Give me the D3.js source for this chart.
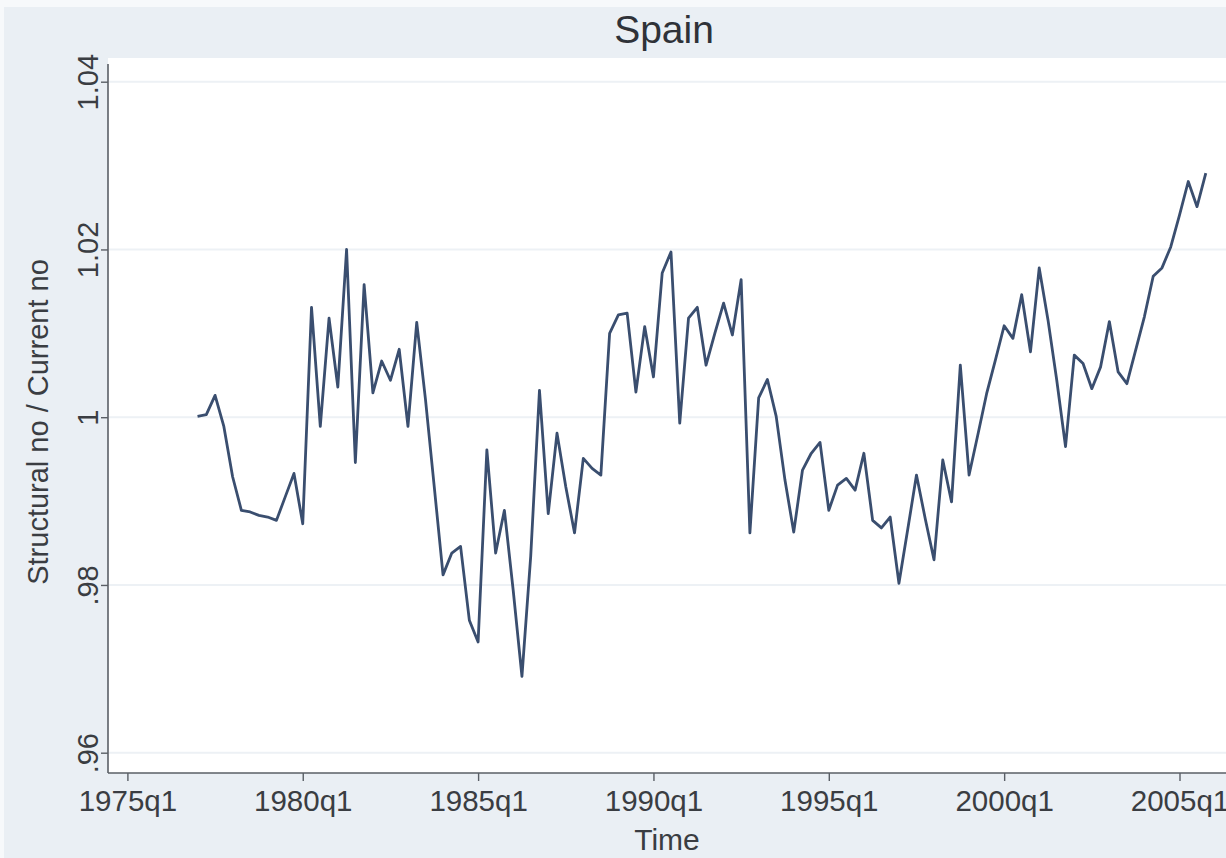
<!DOCTYPE html>
<html>
<head>
<meta charset="utf-8">
<script src="https://cdn.jsdelivr.net/npm/d3@7"></script>
<style>
  html, body { margin: 0; padding: 0; background: #ffffff; }
  svg { display: block; }
</style>
</head>
<body>
<svg id="chart" width="1226" height="858"></svg>
<script>
// Ratio of structural to current value, quarterly, 1977q1 - 2005q4
const firstPeriod = { year: 1977, quarter: 1 };
const ratio = [
  1.0001, 1.0003, 1.0026, 0.9989,
  0.9929, 0.9889, 0.9887, 0.9883,
  0.9881, 0.9877, 0.9905, 0.9933,
  0.9873, 1.0131, 0.9989, 1.0118,
  1.0036, 1.0200, 0.9946, 1.0158,
  1.0029, 1.0067, 1.0044, 1.0081,
  0.9989, 1.0113, 1.0021, 0.9917,
  0.9812, 0.9838, 0.9846, 0.9758,
  0.9732, 0.9961, 0.9838, 0.9889,
  0.9794, 0.9691, 0.9834, 1.0032,
  0.9885, 0.9981, 0.9917, 0.9862,
  0.9951, 0.9939, 0.9931, 1.0100,
  1.0122, 1.0124, 1.0030, 1.0108,
  1.0048, 1.0172, 1.0197, 0.9993,
  1.0118, 1.0131, 1.0062, 1.0100,
  1.0136, 1.0098, 1.0164, 0.9862,
  1.0023, 1.0045, 1.0001, 0.9925,
  0.9863, 0.9937, 0.9957, 0.9970,
  0.9889, 0.9919, 0.9927, 0.9913,
  0.9957, 0.9877, 0.9868, 0.9881,
  0.9802, 0.9866, 0.9931, 0.9879,
  0.9830, 0.9949, 0.9899, 1.0062,
  0.9931, 0.9979, 1.0028, 1.0068,
  1.0109, 1.0094, 1.0146, 1.0078,
  1.0178, 1.0116, 1.0044, 0.9965,
  1.0074, 1.0064, 1.0034, 1.0060,
  1.0114, 1.0054, 1.0040, 1.0080,
  1.0120, 1.0168, 1.0178, 1.0203,
  1.0241, 1.0281, 1.0251, 1.0291
];

const xTickLabels = ["1975q1", "1980q1", "1985q1", "1990q1", "1995q1", "2000q1", "2005q1"];
const yTickValues = [0.96, 0.98, 1.00, 1.02, 1.04];
const yTickLabels = [".96", ".98", "1", "1.02", "1.04"];
const chartTitle = "Spain";
const xTitle = "Time";
const yTitle = "Structural no / Current no";

// quarter index counted from 1975q1
const baseYear = 1975;
const toIndex = (y, q) => (y - baseYear) * 4 + (q - 1);
const parseLabel = s => { const m = s.match(/(\d{4})q(\d)/); return toIndex(+m[1], +m[2]); };

const series = ratio.map((v, i) => {
  const idx = toIndex(firstPeriod.year, firstPeriod.quarter) + i;
  return { t: idx, label: `${baseYear + Math.floor(idx / 4)}q${(idx % 4) + 1}`, v };
});

const W = 1226, H = 858;
const font = "'Liberation Sans', Arial, Helvetica, sans-serif";
const plot = { left: 108, top: 58, right: 1226, bottom: 773 };

const svg = d3.select("#chart");

// graph region and plot region backgrounds
svg.append("rect").attr("x", 0).attr("y", 0).attr("width", W).attr("height", H).attr("fill", "#f7f9fb");
svg.append("rect").attr("x", 4).attr("y", 7).attr("width", W - 4).attr("height", H - 7).attr("fill", "#eaeff4");
svg.append("rect")
  .attr("x", plot.left).attr("y", plot.top)
  .attr("width", plot.right - plot.left).attr("height", plot.bottom - plot.top)
  .attr("fill", "#ffffff");

const x = d3.scaleLinear()
  .domain([parseLabel(xTickLabels[0]), parseLabel(xTickLabels[xTickLabels.length - 1])])
  .range([127.4, 1179.5]);
const y = d3.scaleLinear().domain([0.96, 1.04]).range([752.7, 81.7]);

// horizontal grid
svg.append("g")
  .selectAll("line")
  .data(yTickValues)
  .join("line")
  .attr("x1", plot.left + 1).attr("x2", plot.right)
  .attr("y1", d => y(d)).attr("y2", d => y(d))
  .attr("stroke", "#edf1f5").attr("stroke-width", 2);

// y axis
const yAxis = d3.axisLeft(y)
  .tickValues(yTickValues)
  .tickFormat((d, i) => yTickLabels[i])
  .tickSize(7)
  .tickPadding(4);
const gy = svg.append("g").attr("transform", `translate(${plot.left},0)`).call(yAxis);
gy.select(".domain").attr("d", `M0,${plot.top + 6}V${plot.bottom}`).attr("stroke", "#5a5f66").attr("stroke-width", 1.6);
gy.selectAll(".tick line").attr("stroke", "#5a5f66").attr("stroke-width", 1.4);
gy.selectAll(".tick text")
  .attr("font-family", font).attr("font-size", 29).attr("fill", "#3a3d42")
  .attr("transform", "rotate(-90)")
  .attr("x", 0).attr("y", -10).attr("dy", 0)
  .attr("text-anchor", "middle");

// x axis
const xAxis = d3.axisBottom(x)
  .tickValues(xTickLabels.map(parseLabel))
  .tickFormat((d, i) => xTickLabels[i])
  .tickSize(8)
  .tickPadding(6);
const gx = svg.append("g").attr("transform", `translate(0,${plot.bottom})`).call(xAxis);
gx.select(".domain").attr("d", `M${plot.left},0H${plot.right}`).attr("stroke", "#5a5f66").attr("stroke-width", 1.6);
gx.selectAll(".tick line").attr("stroke", "#5a5f66").attr("stroke-width", 1.4);
gx.selectAll(".tick text")
  .attr("font-family", font).attr("font-size", 29.5).attr("fill", "#3a3d42")
  .attr("y", 38).attr("dy", 0);

// series line
const line = d3.line().x(d => x(d.t)).y(d => y(d.v));
svg.append("path")
  .datum(series)
  .attr("d", line)
  .attr("fill", "none")
  .attr("stroke", "#3a4e6f")
  .attr("stroke-width", 2.8)
  .attr("stroke-linejoin", "round");

// titles
svg.append("text")
  .attr("x", 664).attr("y", 43)
  .attr("text-anchor", "middle")
  .attr("font-family", font).attr("font-size", 39).attr("fill", "#2f3238")
  .text(chartTitle);

svg.append("text")
  .attr("x", 667).attr("y", 850)
  .attr("text-anchor", "middle")
  .attr("font-family", font).attr("font-size", 30).attr("fill", "#3a3d42")
  .text(xTitle);

svg.append("text")
  .attr("transform", `translate(48,${422}) rotate(-90)`)
  .attr("text-anchor", "middle")
  .attr("font-family", font).attr("font-size", 29).attr("fill", "#3a3d42")
  .text(yTitle);
</script>
</body>
</html>
